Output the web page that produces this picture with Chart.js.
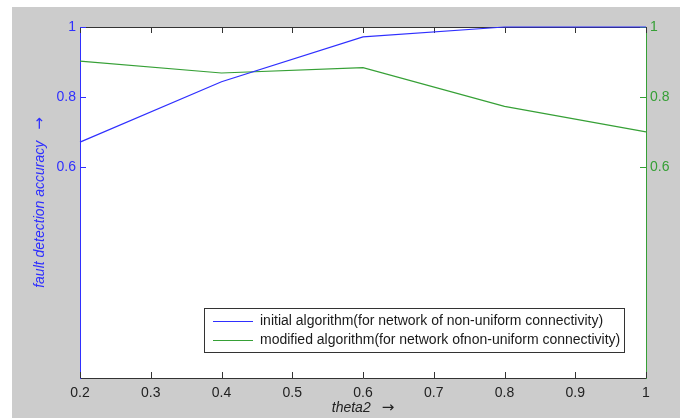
<!DOCTYPE html>
<html>
<head>
<meta charset="utf-8">
<script src="https://cdn.jsdelivr.net/npm/chart.js@4.4.0/dist/chart.umd.min.js"></script>
<style>
body { margin: 0; background: #fff; }
#wrap { position: absolute; left: 12px; top: 7px; width: 668px; height: 411px; background: #cccccc; }
</style>
</head>
<body>
<div id="wrap"><canvas id="faultChart" width="668" height="411"></canvas></div>
<script>
var theta = [0.2, 0.4, 0.6, 0.8, 1.0];
var initialAcc = [0.672, 0.844, 0.972, 1.0, 1.0];
var modifiedAcc = [0.903, 0.869, 0.884, 0.774, 0.701];
var xTicks = [0.2, 0.3, 0.4, 0.5, 0.6, 0.7, 0.8, 0.9, 1.0];
var yTicks = [0.6, 0.8, 1.0];
var seriesNames = [
    'initial algorithm(for network of non-uniform connectivity)',
    'modified algorithm(for network ofnon-uniform connectivity)'
];
var xTitle = 'theta2';
var yTitle = 'fault detection accuracy';

var BLUE = '#2f2fff';
var GREEN = '#36a036';
var FONT = 'Liberation Sans, Arial, sans-serif';

function pts(ys) {
    return theta.map(function(x, i) { return { x: x, y: ys[i] }; });
}

// italic label followed by an upright arrow, centred on (cx, cy)
function arrowTitle(c, text, cx, cy, color, vertical) {
    c.save();
    c.translate(cx, cy);
    if (vertical) c.rotate(-Math.PI / 2);
    c.fillStyle = color;
    c.textBaseline = 'middle';
    c.textAlign = 'left';
    c.font = 'italic 14px ' + FONT;
    var tw = c.measureText(text).width;
    c.font = '15px DejaVu Sans';
    var aw = c.measureText('\u2192').width;
    var gap = 11;
    var x0 = -(tw + gap + aw) / 2;
    c.font = 'italic 14px ' + FONT;
    c.fillText(text, x0, 0);
    c.font = '15px DejaVu Sans';
    c.fillText('\u2192', x0 + tw + gap, 0);
    c.restore();
}

// white plot box, top edge, inward tick marks, titles and legend (matlab style)
var frame = {
    id: 'frame',
    beforeDraw: function(chart) {
        var a = chart.chartArea, c = chart.ctx;
        c.save();
        c.fillStyle = '#ffffff';
        c.fillRect(a.left, a.top, a.right - a.left, a.bottom - a.top);
        c.restore();
    },
    beforeDatasetsDraw: function(chart) {
        var a = chart.chartArea, c = chart.ctx;
        var sx = chart.scales.x, sy = chart.scales.y, sy2 = chart.scales.y2;
        c.save();
        c.lineWidth = 1;
        c.strokeStyle = '#333';
        c.beginPath();
        c.moveTo(a.left, a.top + 0.5);
        c.lineTo(a.right, a.top + 0.5);
        xTicks.forEach(function(v) {
            var px = Math.round(sx.getPixelForValue(v)) + 0.5;
            c.moveTo(px, a.bottom);
            c.lineTo(px, a.bottom - 6);
            c.moveTo(px, a.top);
            c.lineTo(px, a.top + 6);
        });
        c.stroke();
        c.strokeStyle = BLUE;
        c.beginPath();
        yTicks.forEach(function(v) {
            var py = Math.round(sy.getPixelForValue(v)) + 0.5;
            c.moveTo(a.left, py);
            c.lineTo(a.left + 6, py);
        });
        c.stroke();
        c.strokeStyle = GREEN;
        c.beginPath();
        yTicks.forEach(function(v) {
            var py = Math.round(sy2.getPixelForValue(v)) + 0.5;
            c.moveTo(a.right, py);
            c.lineTo(a.right - 6, py);
        });
        c.stroke();
        c.restore();
        arrowTitle(c, xTitle, (a.left + a.right) / 2, a.bottom + 30, '#222', false);
        arrowTitle(c, yTitle, 28, (a.top + a.bottom) / 2, BLUE, true);
    },
    afterDatasetsDraw: function(chart) {
        var a = chart.chartArea, c = chart.ctx;
        var right = a.right - 21, bottom = a.bottom - 25;
        var left = right - 421, top = bottom - 45;
        c.save();
        c.fillStyle = '#fff';
        c.fillRect(left, top, right - left, bottom - top);
        c.strokeStyle = '#333';
        c.lineWidth = 1;
        c.strokeRect(left + 0.5, top + 0.5, right - left - 1, bottom - top - 1);
        c.font = '14px ' + FONT;
        c.textBaseline = 'middle';
        c.fillStyle = '#1a1a1a';
        chart.data.datasets.forEach(function(ds, i) {
            var y = top + 13.5 + i * 19;
            c.strokeStyle = ds.borderColor;
            c.lineWidth = 1.2;
            c.beginPath();
            c.moveTo(left + 9, y);
            c.lineTo(left + 49, y);
            c.stroke();
            c.fillText(ds.label, left + 56, y);
        });
        c.restore();
    }
};

var ctx = document.getElementById('faultChart').getContext('2d');
var faultChart = new Chart(ctx, {
    type: 'line',
    data: {
        datasets: [{
            label: seriesNames[0],
            data: pts(initialAcc),
            borderColor: BLUE,
            borderWidth: 1.2,
            pointRadius: 0,
            tension: 0,
            clip: 3,
            yAxisID: 'y'
        }, {
            label: seriesNames[1],
            data: pts(modifiedAcc),
            borderColor: GREEN,
            borderWidth: 1.2,
            pointRadius: 0,
            tension: 0,
            clip: 3,
            yAxisID: 'y2'
        }]
    },
    options: {
        responsive: false,
        animation: false,
        layout: { padding: { top: 20, left: 0, right: 0, bottom: 0 } },
        scales: {
            x: {
                type: 'linear',
                min: 0.2,
                max: 1,
                afterBuildTicks: function(s) { s.ticks = xTicks.map(function(v) { return { value: v }; }); },
                afterFit: function(s) { s.height = 40; },
                grid: { drawOnChartArea: false, drawTicks: false },
                border: { color: '#333' },
                ticks: {
                    color: '#222',
                    font: { family: FONT, size: 14 },
                    padding: 7,
                    maxRotation: 0,
                    autoSkip: false,
                    callback: function(v) { return String(+v.toFixed(1)); }
                }
            },
            y: {
                position: 'left',
                min: 0,
                max: 1,
                afterBuildTicks: function(s) { s.ticks = yTicks.map(function(v) { return { value: v }; }); },
                afterFit: function(s) { s.width = 68; },
                grid: { drawOnChartArea: false, drawTicks: false },
                border: { color: BLUE },
                ticks: {
                    color: BLUE,
                    font: { family: FONT, size: 14 },
                    padding: 4,
                    callback: function(v) { return String(+v.toFixed(1)); }
                }
            },
            y2: {
                position: 'right',
                min: 0,
                max: 1,
                afterBuildTicks: function(s) { s.ticks = yTicks.map(function(v) { return { value: v }; }); },
                afterFit: function(s) { s.width = 34; },
                grid: { drawOnChartArea: false, drawTicks: false },
                border: { color: GREEN },
                ticks: {
                    color: GREEN,
                    font: { family: FONT, size: 14 },
                    padding: 4,
                    callback: function(v) { return String(+v.toFixed(1)); }
                }
            }
        },
        plugins: {
            legend: { display: false },
            tooltip: { enabled: false }
        }
    },
    plugins: [frame]
});
</script>
</body>
</html>
